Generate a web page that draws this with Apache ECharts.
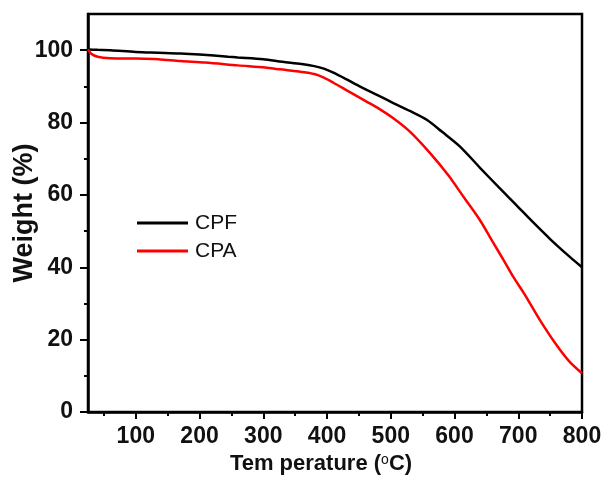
<!DOCTYPE html>
<html>
<head>
<meta charset="utf-8">
<script src="https://cdn.jsdelivr.net/npm/echarts@6/dist/echarts.min.js"></script>
<style>html,body{margin:0;padding:0;background:#fff}#c{width:606px;height:481px}</style>
</head>
<body>
<div id="c"></div>
<script>
var temperatures = [25, 40, 60, 100, 135, 170, 200, 245, 260, 300, 330, 360, 380, 395, 410, 430, 452, 480, 504, 530, 557, 580, 609, 640, 670, 697, 720, 750, 780, 800];
var cpf = [100.2, 100.1, 100.0, 99.5, 99.3, 99.1, 98.8, 98.2, 98.0, 97.5, 96.8, 96.2, 95.6, 94.9, 93.8, 92.0, 89.9, 87.5, 85.4, 83.2, 80.7, 77.5, 73.3, 67.5, 62.0, 57.2, 53.0, 47.8, 43.0, 40.0];
var cpaT = [25, 30, 40, 60, 100, 135, 170, 209, 260, 303, 326, 360, 380, 395, 410, 431, 460, 480, 504, 530, 562, 590, 614, 640, 660, 677, 692, 710, 734, 760, 780, 800];
var cpa = [100.2, 99.0, 98.2, 97.8, 97.7, 97.5, 97.0, 96.6, 95.8, 95.2, 94.7, 94.0, 93.4, 92.4, 91.0, 88.9, 86.0, 84.0, 81.2, 77.5, 71.5, 65.5, 59.5, 53.0, 47.0, 42.0, 37.4, 32.5, 25.4, 18.5, 14.0, 10.7];
var xTicks = [100, 200, 300, 400, 500, 600, 700, 800];
var xMinor = [50, 150, 250, 350, 450, 550, 650, 750];
var yTicks = [0, 20, 40, 60, 80, 100];
var yMinor = [10, 30, 50, 70, 90];
var seriesNames = ['CPF', 'CPA'];

function zip(a, b) { return a.map(function (v, i) { return [v, b[i]]; }); }

var font = 'Liberation Sans, Arial, sans-serif';
var chart = echarts.init(document.getElementById('c'));
chart.setOption({
  animation: false,
  backgroundColor: '#fff',
  grid: { left: 88, right: 24, top: 14, bottom: 69, show: true, borderColor: '#000', borderWidth: 2.5, containLabel: false, outerBoundsMode: 'none' },
  legend: {
    orient: 'vertical', left: 137, top: 211, itemWidth: 51, itemHeight: 3, itemGap: 4, padding: 0,
    icon: 'rect', data: seriesNames,
    textStyle: { fontFamily: font, fontSize: 21, color: '#111', lineHeight: 24, padding: [0, 0, 0, 2] }
  },
  xAxis: [{
    type: 'value', min: 25, max: 800,
    axisLine: { lineStyle: { color: '#000', width: 2.5 } },
    axisTick: { customValues: xTicks, length: 7, lineStyle: { color: '#000', width: 2 } },
    axisLabel: { customValues: xTicks, fontFamily: font, fontSize: 23, fontWeight: 'bold', color: '#111', margin: 13 },
    splitLine: { show: false },
    name: 'Tem perature ({s|o}C)', nameLocation: 'middle', nameGap: 38,
    nameTextStyle: { fontFamily: font, fontSize: 22, fontWeight: 'bold', color: '#111', padding: [0, 28, 0, 0],
      rich: { s: { fontFamily: font, fontSize: 14, fontWeight: 'normal', color: '#111', verticalAlign: 'top', padding: [0, 0, 9, 0] } } }
  }, {
    type: 'value', min: 25, max: 800, position: 'bottom',
    axisLine: { show: false },
    axisTick: { customValues: xMinor, length: 4, lineStyle: { color: '#000', width: 2 } },
    axisLabel: { show: false }, splitLine: { show: false }
  }],
  yAxis: [{
    type: 'value', min: 0, max: 110,
    axisLine: { show: true, lineStyle: { color: '#000', width: 2.5 } },
    axisTick: { show: true, customValues: yTicks, length: 8, lineStyle: { color: '#000', width: 2 } },
    axisLabel: { customValues: yTicks, fontFamily: font, fontSize: 23, fontWeight: 'bold', color: '#111', margin: 15 },
    splitLine: { show: false },
    name: 'Weight (%)', nameLocation: 'middle', nameGap: 50, nameRotate: 90, nameMoveOverlap: false,
    nameTextStyle: { fontFamily: font, fontSize: 27, fontWeight: 'bold', color: '#111' }
  }, {
    type: 'value', min: 0, max: 110, position: 'left',
    axisLine: { show: false },
    axisTick: { show: true, customValues: yMinor, length: 4, lineStyle: { color: '#000', width: 2 } },
    axisLabel: { show: false }, splitLine: { show: false }
  }],
  series: [{
    name: seriesNames[0], type: 'line', showSymbol: false, smooth: 0.3,
    data: zip(temperatures, cpf), color: '#000', lineStyle: { color: '#000', width: 2.5 }
  }, {
    name: seriesNames[1], type: 'line', showSymbol: false, smooth: 0.3,
    data: zip(cpaT, cpa), color: '#ff0000', lineStyle: { color: '#ff0000', width: 2.5 }
  }]
});
</script>
</body>
</html>
